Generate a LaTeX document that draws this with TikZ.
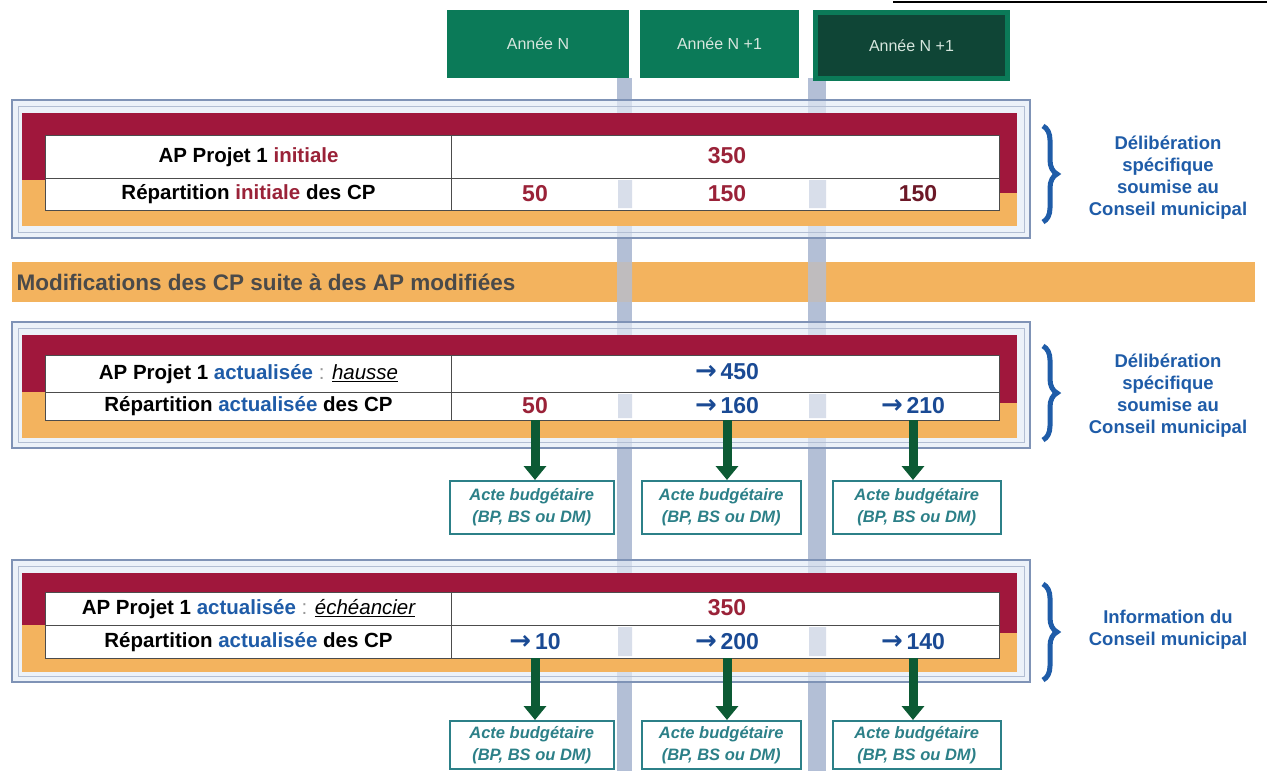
\documentclass[tikz,border=0pt]{standalone}
\usepackage{fontspec}
\setmainfont{Liberation Sans}
\newfontfamily\arrfont{DejaVu Sans}
\usetikzlibrary{positioning, arrows.meta, decorations.pathreplacing}
\definecolor{hdgreen}{HTML}{0B7A58}
\definecolor{hddark}{HTML}{0F4536}
\definecolor{hdtext}{HTML}{D6E6DE}
\definecolor{apred}{HTML}{A0173C}
\definecolor{txtred}{HTML}{9A2238}
\definecolor{cporange}{HTML}{F3B35E}
\definecolor{actblue}{HTML}{1F5CA8}
\definecolor{numblue}{HTML}{1A4A94}
\definecolor{panborder}{HTML}{7F93B6}
\definecolor{panfill}{HTML}{E4ECF6}
\definecolor{bargray}{HTML}{B3BFD6}
\definecolor{arrgreen}{HTML}{0C5A34}
\definecolor{acteteal}{HTML}{2C8088}
\definecolor{bandtext}{HTML}{4A4A4A}
\newcommand{\goesto}{{\arrfont\fontsize{26}{26}\selectfont\symbol{"2192}}\,}

\begin{document}
\begin{tikzpicture}[x=1pt, y=-1pt,
    hdbox/.style={draw=hdgreen, fill=hdgreen, line width=2pt, text=hdtext, font=\fontsize{16}{18}\selectfont, minimum height=66pt, inner sep=0pt, anchor=north west},
    lblcell/.style={draw=black!70, fill=white, line width=1pt, minimum width=406pt, font=\fontsize{20.5}{22}\selectfont\bfseries, inner sep=0pt, anchor=north west},
    valrow/.style={draw=black!70, fill=white, line width=1pt, minimum width=548pt, inner sep=0pt, anchor=north west},
    val/.style={font=\fontsize{23}{25}\selectfont\bfseries, inner sep=0pt},
    acte/.style={draw=acteteal, line width=1.5pt, fill=white, text=acteteal, font=\fontsize{16.5}{22}\selectfont\bfseries\itshape, align=center, inner sep=0pt, anchor=north west},
    grnarrow/.style={draw=arrgreen, line width=9pt, -{Triangle[width=22pt,length=14pt]}},
    sidetext/.style={text=actblue, font=\fontsize{18.5}{22}\selectfont\bfseries, align=center},
    bigbrace/.style={draw=actblue, line width=5pt, decorate, decoration={brace, amplitude=14pt}},
    panel/.style={draw=panborder, line width=1.5pt, fill=panfill, fill opacity=0.7}]

  \useasboundingbox (0,0) rectangle (1267,771);

  % colonnes en fond
  \fill[bargray] (617,78) rectangle (632,771);
  \fill[bargray] (808,78) rectangle (826,771);

  % en-tetes
  \node[hdbox, minimum width=180pt] (anN) at (447,10) {Année N};
  \node[hdbox, minimum width=157pt] (anN1) at (640,10) {Année N +1};
  \node[hdbox, minimum width=192pt, fill=hddark, line width=5pt] (anN2) at (813,10) {Année N +1};
  \draw[line width=2pt] (893,2) -- (1267,2);

  % bloc 1 : AP initiale
  \draw[panel] (12,100) rectangle (1030,238);
  \draw[panborder!60] (18,106) rectangle (1024,232);
  \fill[apred] (22,113) rectangle (1017,180);
  \fill[cporange] (22,180) rectangle (1017,226);
  \fill[apred] (999,180) rectangle (1017,193);
  \node[lblcell, minimum height=43pt] (ap1) at (45,135) {AP Projet 1 \textcolor{txtred}{initiale}};
  \node[valrow, minimum height=43pt] (ap1v) at (451,135) {};
  \node[lblcell, minimum height=32pt] (cp1) at (45,178) {Répartition \textcolor{txtred}{initiale} des CP};
  \node[valrow, minimum height=32pt] (cp1v) at (451,178) {};
  \fill[bargray, opacity=0.5] (618,180) rectangle (632,208) (809,180) rectangle (826,208);
  \node[val, text=txtred] (ap1n) at (727,156) {350};
  \node[val, text=txtred, minimum height=32pt] (cp1a) at (535,194) {50};
  \node[val, text=txtred, minimum height=32pt] (cp1b) at (727,194) {150};
  \node[val, text=txtred!70!black, minimum height=32pt] (cp1c) at (918,194) {150};
  \draw[bigbrace] (1043,126) -- (1043,222);
  \node[sidetext] (delib1) at (1168,178) {Délibération\\spécifique\\soumise au\\Conseil municipal};

  % bandeau
  \fill[cporange] (12,262) rectangle (1255,302);
  \fill[bargray, opacity=0.8] (617,262) rectangle (632,302) (808,262) rectangle (826,302);
  \node[anchor=west, text=bandtext, font=\fontsize{22.5}{24}\selectfont\bfseries] (modif) at (13,282) {Modifications des CP suite à des AP modifiées};

  % bloc 2 : AP actualisee (hausse)
  \draw[panel] (12,322) rectangle (1030,448);
  \draw[panborder!60] (18,328) rectangle (1024,442);
  \fill[apred] (22,335) rectangle (1017,392);
  \fill[cporange] (22,392) rectangle (1017,438);
  \fill[apred] (999,392) rectangle (1017,403);
  \node[lblcell, minimum height=37pt] (ap2) at (45,355) {AP Projet 1 \textcolor{actblue}{actualisée} \textcolor{black!40}{\mdseries:} \mdseries\itshape\underline{hausse}};
  \node[valrow, minimum height=37pt] (ap2v) at (451,355) {};
  \node[lblcell, minimum height=28pt] (cp2) at (45,392) {Répartition \textcolor{actblue}{actualisée} des CP};
  \node[valrow, minimum height=28pt] (cp2v) at (451,392) {};
  \fill[bargray, opacity=0.5] (618,394) rectangle (632,418) (809,394) rectangle (826,418);
  \node[val, text=numblue] (ap2n) at (727,372) {\goesto 450};
  \node[val, text=txtred, minimum height=28pt] (cp2a) at (535,406) {50};
  \node[val, text=numblue, minimum height=28pt] (cp2b) at (727,406) {\goesto 160};
  \node[val, text=numblue, minimum height=28pt] (cp2c) at (913,406) {\goesto 210};
  \draw[bigbrace] (1043,346) -- (1043,440);
  \node[sidetext] (delib2) at (1168,396) {Délibération\\spécifique\\soumise au\\Conseil municipal};

  \node[acte, minimum width=164pt, minimum height=53pt] (acte2a) at (449,480) {Acte budgétaire\\(BP, BS ou DM)};
  \node[acte, minimum width=159pt, minimum height=53pt] (acte2b) at (641,480) {Acte budgétaire\\(BP, BS ou DM)};
  \node[acte, minimum width=168pt, minimum height=53pt] (acte2c) at (832,480) {Acte budgétaire\\(BP, BS ou DM)};
  \draw[grnarrow] (cp2a.south) -- (acte2a.north -| cp2a);
  \draw[grnarrow] (cp2b.south) -- (acte2b.north -| cp2b);
  \draw[grnarrow] (cp2c.south) -- (acte2c.north -| cp2c);

  % bloc 3 : AP actualisee (echeancier)
  \draw[panel] (12,560) rectangle (1030,682);
  \draw[panborder!60] (18,566) rectangle (1024,676);
  \fill[apred] (22,573) rectangle (1017,625);
  \fill[cporange] (22,625) rectangle (1017,672);
  \fill[apred] (999,625) rectangle (1017,633);
  \node[lblcell, minimum height=33pt] (ap3) at (45,592) {AP Projet 1 \textcolor{actblue}{actualisée} \textcolor{black!40}{\mdseries:} \mdseries\itshape\underline{échéancier}};
  \node[valrow, minimum height=33pt] (ap3v) at (451,592) {};
  \node[lblcell, minimum height=33pt] (cp3) at (45,625) {Répartition \textcolor{actblue}{actualisée} des CP};
  \node[valrow, minimum height=33pt] (cp3v) at (451,625) {};
  \fill[bargray, opacity=0.5] (618,627) rectangle (632,656) (809,627) rectangle (826,656);
  \node[val, text=txtred] (ap3n) at (727,608) {350};
  \node[val, text=numblue, minimum height=33pt] (cp3a) at (535,641.5) {\goesto 10};
  \node[val, text=numblue, minimum height=33pt] (cp3b) at (727,641.5) {\goesto 200};
  \node[val, text=numblue, minimum height=33pt] (cp3c) at (913,641.5) {\goesto 140};
  \draw[bigbrace] (1043,584) -- (1043,680);
  \node[sidetext] (info3) at (1168,630) {Information du\\Conseil municipal};

  \node[acte, minimum width=164pt, minimum height=48pt] (acte3a) at (449,720) {Acte budgétaire\\(BP, BS ou DM)};
  \node[acte, minimum width=159pt, minimum height=48pt] (acte3b) at (641,720) {Acte budgétaire\\(BP, BS ou DM)};
  \node[acte, minimum width=168pt, minimum height=48pt] (acte3c) at (832,720) {Acte budgétaire\\(BP, BS ou DM)};
  \draw[grnarrow] (cp3a.south) -- (acte3a.north -| cp3a);
  \draw[grnarrow] (cp3b.south) -- (acte3b.north -| cp3b);
  \draw[grnarrow] (cp3c.south) -- (acte3c.north -| cp3c);
\end{tikzpicture}
\end{document}
